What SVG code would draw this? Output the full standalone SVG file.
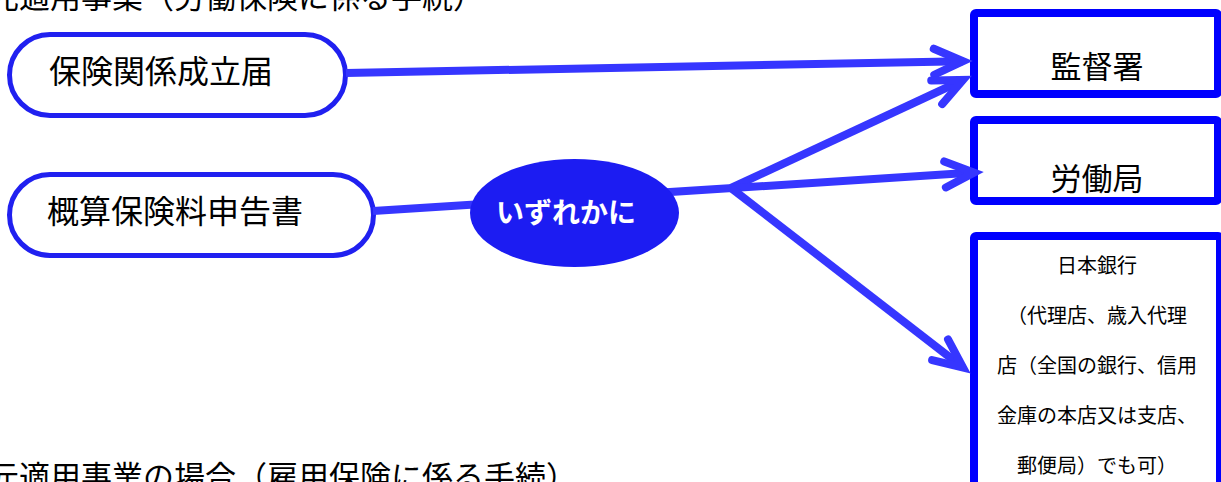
<svg xmlns="http://www.w3.org/2000/svg" width="1221" height="482" viewBox="0 0 1221 482">
<style>
  text { font-family: "Noto Sans CJK JP", "Noto Sans", sans-serif; fill: #000; }
  .title { font-size: 31px; }
  .pill { fill: #fff; stroke: #2020f0; stroke-width: 5; }
  .box { fill: #fff; stroke: #0000ff; stroke-width: 8; }
  .conn { fill: none; stroke: #3636ff; stroke-width: 8; }
  .big { font-size: 31px; text-anchor: middle; }
  .small { font-size: 20px; text-anchor: middle; }
  .pilltext { font-size: 32px; }
</style>
<defs>
  <marker id="arr" markerUnits="userSpaceOnUse" viewBox="-40 -20 50 40" refX="0" refY="0" markerWidth="50" markerHeight="40" orient="auto" overflow="visible">
    <path d="M-29,-13 L0,0 L-29,13" fill="none" stroke="#3636ff" stroke-width="8" stroke-linecap="round" stroke-linejoin="miter"/>
  </marker>
</defs>
<rect width="1221" height="482" fill="#fff"/>
<text class="title" x="-12" y="8">元適用事業（労働保険に係る手続）</text>
<text class="title" x="-12" y="488">元適用事業の場合（雇用保険に係る手続）</text>

<g id="node-kantokusho">
  <rect class="box" x="974" y="13" width="244" height="81" rx="2"/>
  <text class="big" x="1097" y="78">監督署</text>
</g>
<g id="node-roudoukyoku">
  <rect class="box" x="974" y="120" width="244" height="81" rx="2"/>
  <text class="big" x="1097" y="190">労働局</text>
</g>
<g id="node-nihonginko">
  <rect class="box" x="974" y="236" width="246" height="260" rx="2"/>
  <text class="small" x="1097" y="273">日本銀行</text>
  <text class="small" x="1097" y="323">（代理店、歳入代理</text>
  <text class="small" x="1097" y="373">店（全国の銀行、信用</text>
  <text class="small" x="1097" y="423">金庫の本店又は支店、</text>
  <text class="small" x="1097" y="473">郵便局）でも可）</text>
</g>
<g id="node-seiritsu">
  <rect class="pill" x="9.5" y="34.5" width="336" height="81" rx="40.5"/>
  <text class="pilltext" x="49" y="83">保険関係成立届</text>
</g>
<g id="node-gaisan">
  <rect class="pill" x="9.5" y="174.5" width="364" height="81" rx="40.5"/>
  <text class="pilltext" x="47" y="223">概算保険料申告書</text>
</g>

<g id="connectors">
  <line class="conn" x1="346" y1="73" x2="963" y2="61.2" marker-end="url(#arr)"/>
  <line class="conn" x1="731" y1="188" x2="963" y2="80" marker-end="url(#arr)"/>
  <line class="conn" x1="373" y1="211" x2="974" y2="172.6" marker-end="url(#arr)"/>
  <line class="conn" x1="731" y1="188" x2="963" y2="367.5" marker-end="url(#arr)"/>
</g>

<g id="node-izureka">
  <ellipse cx="574.5" cy="213" rx="104.5" ry="54" fill="#1c1cf2"/>
  <text x="566" y="223" style="font-size:28px;font-weight:bold;fill:#fff;text-anchor:middle">いずれかに</text>
</g>
</svg>
